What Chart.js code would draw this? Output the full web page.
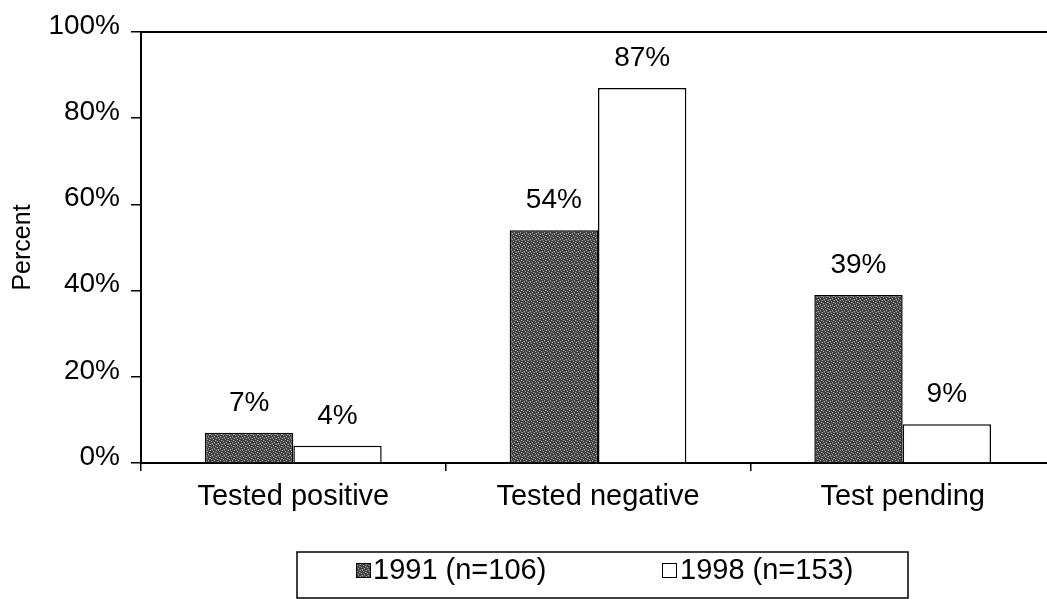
<!DOCTYPE html>
<html>
<head>
<meta charset="utf-8">
<title>HIV test results, 1991 vs 1998</title>
<script src="https://cdn.jsdelivr.net/npm/chart.js@4.4.1/dist/chart.umd.min.js"></script>
<style>
    html, body { margin: 0; padding: 0; background: #fff; overflow: hidden; }
    #wrap { width: 1047px; height: 599px; overflow: hidden; }
</style>
</head>
<body>
<div id="wrap">
    <canvas id="chart" width="1060" height="599"></canvas>
</div>
<script>
// chart data
const categories = ['Tested positive', 'Tested negative', 'Test pending'];
const seriesLabels = ['1991 (n=106)', '1998 (n=153)'];
const values1991 = [7, 54, 39];
const values1998 = [4, 87, 9];
const yTicks = [0, 20, 40, 60, 80, 100];

const FONT = '"Liberation Sans", Arial, sans-serif';

// dithered dark grey fill, like the scanned original
function makeDither() {
    const c = document.createElement('canvas');
    c.width = 6; c.height = 6;
    const g = c.getContext('2d');
    g.fillStyle = '#3e3e3e';
    g.fillRect(0, 0, 6, 6);
    g.fillStyle = '#a8a8a8';
    [[0, 0], [3, 1], [1, 3], [4, 4], [5, 2], [2, 5]].forEach(p => g.fillRect(p[0], p[1], 1, 1));
    g.fillStyle = '#666';
    [[2, 0], [5, 0], [0, 2], [3, 3], [1, 5], [4, 5]].forEach(p => g.fillRect(p[0], p[1], 1, 1));
    return g.createPattern(c, 'repeat');
}

const canvas = document.getElementById('chart');
const ctx = canvas.getContext('2d');
const darkFill = makeDither();

// value labels above each bar
const barLabels = {
    id: 'barLabels',
    afterDatasetsDraw(chart) {
        const c = chart.ctx;
        c.save();
        c.font = '28px ' + FONT;
        c.fillStyle = '#000';
        c.textAlign = 'center';
        c.textBaseline = 'alphabetic';
        chart.data.datasets.forEach((ds, i) => {
            chart.getDatasetMeta(i).data.forEach((bar, j) => {
                c.fillText(ds.data[j] + '%', bar.x, bar.y - 22);
            });
        });
        c.restore();
    }
};

// top frame line + boxed legend under the chart
const frameAndLegend = {
    id: 'frameAndLegend',
    afterDraw(chart) {
        const c = chart.ctx;
        const a = chart.chartArea;
        c.save();
        c.strokeStyle = '#000';
        c.lineWidth = 2;
        c.beginPath();
        c.moveTo(a.left, a.top);
        c.lineTo(a.right, a.top);
        c.stroke();

        // legend box
        c.lineWidth = 1.5;
        c.strokeRect(297, 552, 611, 46);
        const items = [{ sx: 356, tx: 373 }, { sx: 662, tx: 680 }];
        c.font = '29px ' + FONT;
        c.textAlign = 'left';
        c.textBaseline = 'middle';
        chart.data.datasets.forEach((ds, i) => {
            const it = items[i];
            c.fillStyle = ds.backgroundColor;
            c.fillRect(it.sx, 563, 14, 14);
            c.lineWidth = 1;
            c.strokeRect(it.sx + 0.5, 563.5, 14, 14);
            c.fillStyle = '#000';
            c.fillText(ds.label, it.tx, 571);
        });
        c.restore();
    }
};

new Chart(ctx, {
    type: 'bar',
    data: {
        labels: categories,
        datasets: [
            {
                label: seriesLabels[0],
                data: values1991,
                backgroundColor: darkFill,
                borderColor: '#000',
                borderWidth: 1.5
            },
            {
                label: seriesLabels[1],
                data: values1998,
                backgroundColor: '#fff',
                borderColor: '#000',
                borderWidth: 1.5
            }
        ]
    },
    options: {
        responsive: false,
        animation: false,
        events: [],
        layout: { padding: { top: 32, right: 5, bottom: 0, left: 0 } },
        datasets: {
            bar: { categoryPercentage: 0.58, barPercentage: 1.0 }
        },
        plugins: {
            legend: { display: false },
            tooltip: { enabled: false }
        },
        scales: {
            x: {
                grid: {
                    offset: true,
                    drawOnChartArea: false,
                    tickLength: 8,
                    color: '#000',
                    lineWidth: 1.5
                },
                border: { display: true, color: '#000', width: 2 },
                ticks: {
                    color: '#000',
                    padding: 9,
                    font: { family: FONT, size: 29 }
                },
                afterFit(scale) { scale.height = 136; }
            },
            y: {
                min: 0,
                max: 100,
                afterBuildTicks(scale) {
                    scale.ticks = yTicks.map(v => ({ value: v }));
                },
                grid: {
                    drawOnChartArea: false,
                    tickLength: 10,
                    color: '#000',
                    lineWidth: 1.5
                },
                border: { display: true, color: '#000', width: 2 },
                ticks: {
                    color: '#000',
                    padding: 11,
                    labelOffset: -6,
                    font: { family: FONT, size: 28 },
                    callback: v => v + '%'
                },
                title: {
                    display: true,
                    text: 'Percent',
                    color: '#000',
                    padding: { top: 8, bottom: 0 },
                    font: { family: FONT, size: 25 }
                },
                afterFit(scale) { scale.width = 141; }
            }
        }
    },
    plugins: [barLabels, frameAndLegend]
});
</script>
</body>
</html>
